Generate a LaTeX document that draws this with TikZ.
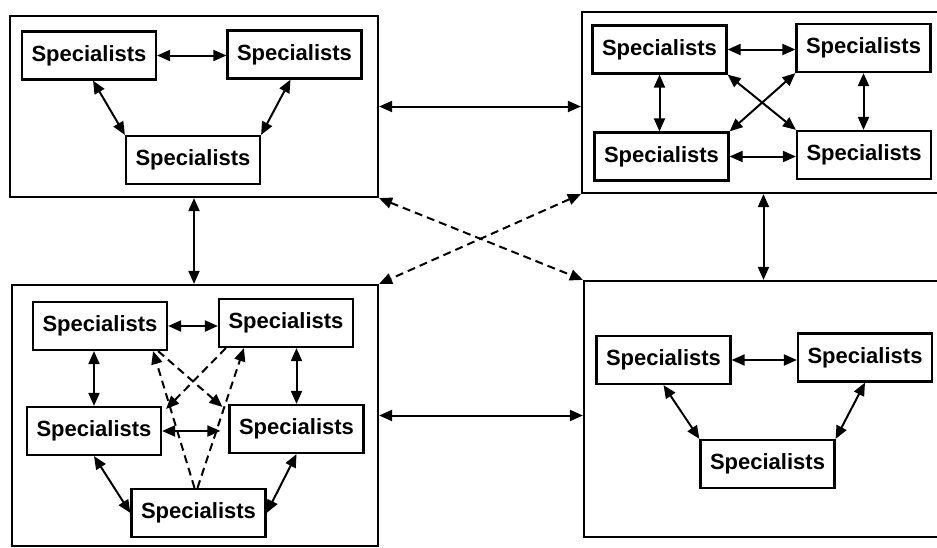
\documentclass[tikz,border=0pt]{standalone}
\usepackage{fontspec}
\newfontfamily\spfont{Liberation Sans}
\usetikzlibrary{arrows.meta,calc}
\begin{document}
\begin{tikzpicture}[x=1pt,y=-1pt,
  outer/.style={draw,line width=2.2pt,inner sep=0pt},
  spec/.style={draw,line width=2.2pt,inner sep=0pt,minimum width=134pt,minimum height=48pt,font=\spfont\bfseries\fontsize{22}{26}\selectfont},
  arr/.style={line width=2pt,{Triangle[length=13pt,width=11pt]}-{Triangle[length=13pt,width=11pt]}},
  darr/.style={line width=2pt,dash pattern=on 8pt off 5pt,-{Triangle[length=13pt,width=11pt]}},
  ddarr/.style={line width=2pt,dash pattern=on 8pt off 5pt,{Triangle[length=13pt,width=11pt]}-{Triangle[length=13pt,width=11pt]}}]
\useasboundingbox (0,0) rectangle (937,547);
\fill[white] (0,0) rectangle (937,547);
% outer boxes
\node[outer,minimum width=368pt,minimum height=181pt] (TL) at (194,106.5) {};
\node[outer,minimum width=363pt,minimum height=181pt] (TR) at (763.5,102.5) {};
\node[outer,minimum width=366pt,minimum height=261pt] (BL) at (195,415.5) {};
\node[outer,minimum width=361pt,minimum height=256pt] (BR) at (764.5,409) {};
% connections between outer boxes
\draw[arr] (TL.east) -- (TL.east -| TR.west);
\draw[arr] (TL.south) -- (TL.south |- BL.north);
\draw[arr] (TR.south) -- (TR.south |- BR.north);
\draw[arr] (BL.east) -- (BL.east -| BR.west);
\draw[ddarr] (TL.south east) -- (BR.north west);
\draw[ddarr] (TR.south west) -- (BL.north east);
% top left group
\node[spec] (t1) at (89,55.5) {Specialists};
\node[spec] (t2) at (294.5,54.5) {Specialists};
\node[spec] (t3) at (193,160) {Specialists};
\draw[arr] (t1.east) -- (t1.east -| t2.west);
\draw[arr] ([xshift=4pt]t1.south) -- (t3.north west);
\draw[arr] ([xshift=-4pt]t2.south) -- (t3.north east);
% top right group
\node[spec] (r1) at (659.5,49.5) {Specialists};
\node[spec] (r2) at (863.5,48) {Specialists};
\node[spec] (r3) at (661.5,156.5) {Specialists};
\node[spec] (r4) at (864,155) {Specialists};
\draw[arr] (r1.east) -- (r1.east -| r2.west);
\draw[arr] (r3.east) -- (r3.east -| r4.west);
\draw[arr] (r1.south) -- (r1.south |- r3.north);
\draw[arr] (r2.south) -- (r2.south |- r4.north);
\draw[arr] (r1.south east) -- (r4.north west);
\draw[arr] (r2.south west) -- (r3.north east);
% bottom right group
\node[spec] (b1) at (663.5,360) {Specialists};
\node[spec] (b2) at (865,357.5) {Specialists};
\node[spec] (b3) at (767.5,464) {Specialists};
\draw[arr] (b1.east) -- (b1.east -| b2.west);
\draw[arr] (b1.south) -- (b3.north west);
\draw[arr] (b2.south) -- (b3.north east);
% bottom left group
\node[spec] (l1) at (100,326) {Specialists};
\node[spec] (l2) at (286,323) {Specialists};
\node[spec] (l3) at (94,431) {Specialists};
\node[spec] (l4) at (296.5,429) {Specialists};
\node[spec] (l5) at (198.5,513) {Specialists};
\draw[arr] (l1.east) -- (l1.east -| l2.west);
\draw[arr] (l3.north |- l1.south) -- (l3.north);
\draw[arr] (l4.north |- l2.south) -- (l4.north);
\draw[arr] (l3.east) -- ([xshift=-8pt]l3.east -| l4.west);
\draw[arr] (l3.south) -- (l5.west);
\draw[arr] (l4.south) -- (l5.east);
\draw[darr] ([xshift=-10pt]l1.south east) -- ([xshift=-6pt,yshift=-3pt]l4.north west);
\draw[darr] ([xshift=8pt]l2.south west) -- ([xshift=4pt,yshift=-3pt]l3.north east);
\draw[darr] ([xshift=-4pt]l5.north) -- ([xshift=-15pt]l1.south east);
\draw[darr] ([xshift=-1pt]l5.north) -- ([xshift=26pt]l2.south west);
\end{tikzpicture}
\end{document}
